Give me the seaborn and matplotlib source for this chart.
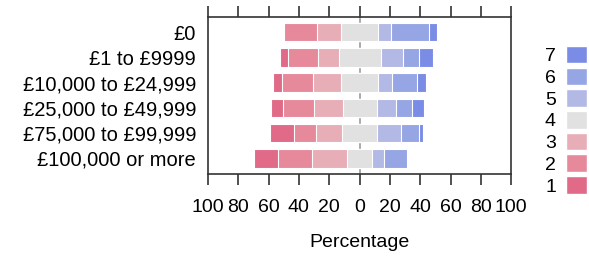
import pandas as pd
import matplotlib.pyplot as plt
import seaborn as sns
from matplotlib.patches import Patch

# Income bands (top to bottom) and percentage answering each level 1..7
categories = ['£0', '£1 to £9999', '£10,000 to £24,999', '£25,000 to £49,999',
              '£75,000 to £99,999', '£100,000 or more']
levels = ['1', '2', '3', '4', '5', '6', '7']
level1 = [0.0, 5.2, 5.5, 7.9, 15.6, 15.6]
level2 = [21.7, 19.8, 20.4, 20.7, 14.7, 22.4]
level3 = [16.3, 13.7, 18.9, 18.9, 17.2, 23.3]
level4 = [24.0, 27.6, 24.0, 22.4, 23.1, 16.3]
level5 = [8.8, 14.6, 9.6, 12.8, 15.6, 7.7]
level6 = [24.8, 10.5, 16.5, 10.5, 12.1, 15.6]
level7 = [5.5, 9.5, 6.0, 7.7, 2.6, 0.0]

colors = ['#E06A87', '#E6899B', '#E8AEB8', '#E1E1E1', '#B2B9E5', '#96A5E4', '#7A8CE6']

sns.set_style('white')
plt.rcParams['font.family'] = ['Liberation Sans', 'DejaVu Sans']
plt.rcParams['text.color'] = 'black'
plt.rcParams['xtick.color'] = 'black'
plt.rcParams['ytick.color'] = 'black'
plt.rcParams['axes.labelcolor'] = 'black'

df = pd.DataFrame({'category': categories, '1': level1, '2': level2, '3': level3,
                   '4': level4, '5': level5, '6': level6, '7': level7})

# neutral split around zero, other levels stacked outward
df['L4'] = -df['4'] / 2
df['L3'] = df['L4'] - df['3']
df['L2'] = df['L3'] - df['2']
df['L1'] = df['L2'] - df['1']
df['R4'] = df['4'] / 2
df['R5'] = df['R4'] + df['5']
df['R6'] = df['R5'] + df['6']
df['R7'] = df['R6'] + df['7']

fig = plt.figure(figsize=(5.89, 2.57), dpi=100)
ax = fig.add_axes([0.353, 0.323, 0.515, 0.611])

ax.axvline(0, color='#aaaaaa', lw=1.4, zorder=0.5)

# draw outermost first so inner segments sit on top
order = [('L1', 0), ('L2', 1), ('L3', 2), ('R7', 6), ('R6', 5), ('R5', 4)]
for col, ci in order:
    sns.barplot(data=df, x=col, y='category', orient='h', color=colors[ci],
                saturation=1, width=0.73, edgecolor='white', linewidth=0.8,
                errorbar=None, ax=ax)
# neutral level as one piece centred on zero
ax.barh(df.index, df['4'], left=df['L4'], height=0.73, color=colors[3],
        edgecolor='white', linewidth=0.8)

ax.set_xlim(-100, 100)
ax.set_ylim(5.62, -0.6)
ticks = list(range(-100, 101, 20))
ax.set_xticks(ticks)
ax.set_xticklabels([str(abs(t)) for t in ticks])
ax.tick_params(axis='x', top=True, bottom=True, labeltop=False, direction='out',
               length=8, width=1.2, labelsize=14, pad=10, color='#333333')
ax.tick_params(axis='y', left=False, labelsize=14.5, pad=5)
ax.set_ylabel('')
ax.set_xlabel('Percentage', fontsize=14, labelpad=13)
for s in ax.spines.values():
    s.set_color('#333333')
    s.set_linewidth(1.2)

handles = [Patch(facecolor=colors[i], edgecolor='white') for i in range(6, -1, -1)]
fig.legend(handles, levels[::-1], loc='center right', bbox_to_anchor=(0.996, 0.53),
           frameon=False, markerfirst=False, handlelength=1.08, handleheight=1.0,
           labelspacing=0.12, handletextpad=0.5, fontsize=14, borderpad=0,
           borderaxespad=0)

fig.savefig('out.png', dpi=100)
